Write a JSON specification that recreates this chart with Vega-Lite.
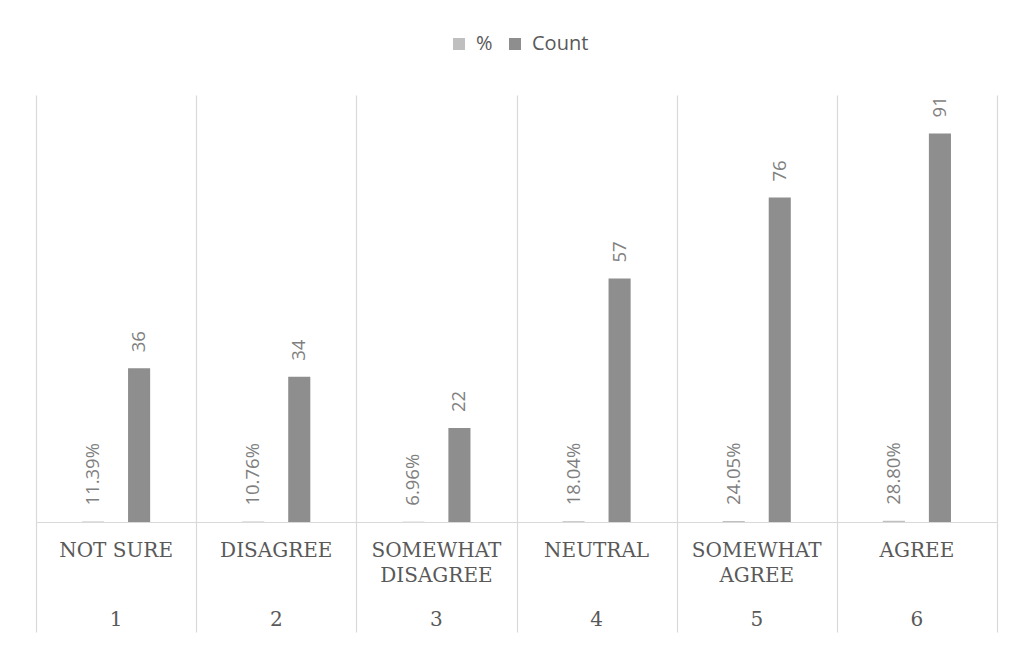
{
  "$schema": "https://vega.github.io/schema/vega-lite/v6.json",
  "width": 961,
  "height": 427,
  "autosize": {"type": "none"},
  "padding": {"left": 36, "top": 95, "right": 20, "bottom": 124},
  "background": "white",
  "config": {
    "view": {"stroke": null}
  },
  "data": {
    "values": [
      {"code": 1, "response": "NOT SURE", "series": "%", "value": 0.1139},
      {"code": 1, "response": "NOT SURE", "series": "Count", "value": 36},
      {"code": 2, "response": "DISAGREE", "series": "%", "value": 0.1076},
      {"code": 2, "response": "DISAGREE", "series": "Count", "value": 34},
      {"code": 3, "response": "SOMEWHAT\nDISAGREE", "series": "%", "value": 0.0696},
      {"code": 3, "response": "SOMEWHAT\nDISAGREE", "series": "Count", "value": 22},
      {"code": 4, "response": "NEUTRAL", "series": "%", "value": 0.1804},
      {"code": 4, "response": "NEUTRAL", "series": "Count", "value": 57},
      {"code": 5, "response": "SOMEWHAT\nAGREE", "series": "%", "value": 0.2405},
      {"code": 5, "response": "SOMEWHAT\nAGREE", "series": "Count", "value": 76},
      {"code": 6, "response": "AGREE", "series": "%", "value": 0.288},
      {"code": 6, "response": "AGREE", "series": "Count", "value": 91}
    ]
  },
  "encoding": {
    "x": {
      "field": "response",
      "type": "nominal",
      "sort": {"field": "code", "op": "min"},
      "scale": {"paddingInner": 0, "paddingOuter": 0},
      "axis": {
        "title": null,
        "labels": false,
        "tickBand": "extent",
        "grid": true,
        "gridColor": "#d9d9d9",
        "gridWidth": 1.2,
        "domainColor": "#d9d9d9",
        "domainWidth": 1.2,
        "tickColor": "#d9d9d9",
        "tickWidth": 1.2,
        "tickSize": 110
      }
    },
    "y": {
      "field": "value",
      "type": "quantitative",
      "scale": {"domain": [0, 100], "nice": false},
      "axis": null
    }
  },
  "layer": [
    {
      "mark": {"type": "bar"},
      "encoding": {
        "xOffset": {
          "field": "series",
          "type": "nominal",
          "scale": {"domain": ["%", "Count"], "paddingInner": 0.52, "paddingOuter": 1}
        },
        "color": {
          "field": "series",
          "type": "nominal",
          "scale": {"domain": ["%", "Count"], "range": ["#bfbfbf", "#8e8e8e"]},
          "legend": {
            "orient": "none",
            "legendX": 413,
            "legendY": -61,
            "direction": "horizontal",
            "title": null,
            "padding": 0,
            "symbolType": "square",
            "symbolSize": 144,
            "symbolStrokeWidth": 0,
            "labelFont": "Open Sans",
            "labelFontSize": 20,
            "labelColor": "#595959",
            "labelOffset": 7,
            "columnPadding": 12
          }
        }
      }
    },
    {
      "transform": [{"filter": "datum.series === '%'"}],
      "mark": {"type": "text", "angle": 270, "align": "left", "baseline": "middle", "dx": 16, "font": "Open Sans", "fontSize": 18.5, "fill": "#7f7f7f"},
      "encoding": {
        "xOffset": {"field": "series", "type": "nominal"},
        "text": {"field": "value", "type": "quantitative", "format": ".2%"}
      }
    },
    {
      "transform": [{"filter": "datum.series === 'Count'"}],
      "mark": {"type": "text", "angle": 270, "align": "left", "baseline": "middle", "dx": 16, "font": "Open Sans", "fontSize": 18.5, "fill": "#7f7f7f"},
      "encoding": {
        "xOffset": {"field": "series", "type": "nominal"},
        "text": {"field": "value", "type": "quantitative", "format": "d"}
      }
    },
    {
      "transform": [{"filter": "datum.series === 'Count'"}],
      "mark": {"type": "text", "align": "center", "baseline": "top", "dy": 19, "lineBreak": "\n", "lineHeight": 25, "font": "DejaVu Serif", "fontSize": 20, "fill": "#595959"},
      "encoding": {
        "y": {"datum": 0, "type": "quantitative"},
        "text": {"field": "response", "type": "nominal"}
      }
    },
    {
      "transform": [{"filter": "datum.series === 'Count'"}],
      "mark": {"type": "text", "align": "center", "baseline": "top", "dy": 88, "font": "DejaVu Serif", "fontSize": 20, "fill": "#595959"},
      "encoding": {
        "y": {"datum": 0, "type": "quantitative"},
        "text": {"field": "code", "type": "nominal"}
      }
    }
  ]
}
